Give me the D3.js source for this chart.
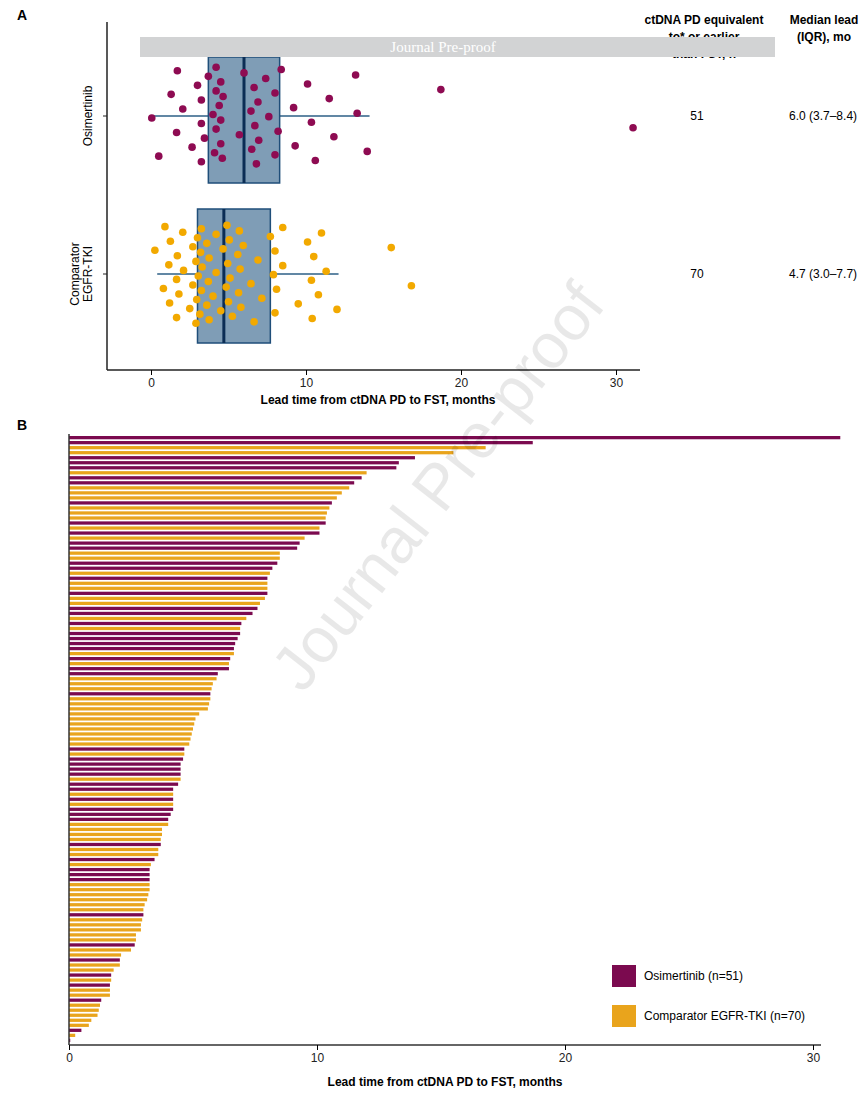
<!DOCTYPE html>
<html lang="en">
<head>
<meta charset="UTF-8">
<script src="https://d3js.org/d3.v7.min.js"></script>
</head>
<body style="margin:0px;background:#fff;">
<script>
// lead time (months) per patient, sorted descending
var leadTimes=[31.1,18.7,16.8,15.5,13.95,13.3,13.2,12.0,11.8,11.5,11.3,11.0,10.8,10.6,10.5,10.4,10.35,10.35,10.1,10.1,
9.5,9.3,9.2,8.5,8.5,8.4,8.2,8.1,8.0,8.0,8.0,8.0,7.9,7.7,7.6,7.4,7.15,6.95,6.9,6.9,
6.8,6.7,6.65,6.65,6.5,6.45,6.45,6.0,5.95,5.8,5.75,5.7,5.7,5.65,5.6,5.25,5.1,5.05,5.0,4.95,
4.9,4.85,4.65,4.65,4.6,4.5,4.5,4.5,4.5,4.4,4.2,4.2,4.2,4.2,4.2,4.1,4.0,4.0,3.75,3.75,
3.7,3.7,3.6,3.6,3.45,3.3,3.25,3.25,3.25,3.25,3.25,3.2,3.15,3.05,3.0,3.0,2.95,2.9,2.9,2.7,
2.7,2.65,2.5,2.1,2.05,2.05,1.8,1.7,1.7,1.65,1.65,1.65,1.3,1.25,1.2,1.15,0.9,0.8,0.5,0.25,0.05];
// 1-based positions (in leadTimes) of osimertinib patients; the rest are comparator
var osiRows=[1,2,5,6,7,9,10,14,18,20,22,23,26,27,29,32,35,36,38,40,41,42,43,45,47,48,52,
63,65,66,67,68,70,71,73,75,76,77,82,85,87,88,89,96,102,105,108,110,113,119,121];
var groups=['Osimertinib','Comparator EGFR-TKI'];
var groupCounts=[51,70];
var medianIQR=['6.0 (3.7\u20138.4)','4.7 (3.0\u20137.7)'];
var boxStats=[{q1:3.7,med:6.0,q3:8.3,lo:0.2,hi:14.1},{q1:3.0,med:4.7,q3:7.7,lo:0.4,hi:12.1}];
var xTicks=[0,10,20,30];

var arms=leadTimes.map(function(v,i){return osiRows.indexOf(i+1)>=0?groups[0]:groups[1];});
var purple='#7b0a4f', orange='#e9a41c', dotP='#8e0b52', dotO='#f2a900';
var colorOf=function(a){return a=='Osimertinib'?purple:orange;};

var svg=d3.select('body').append('svg').attr('width',865).attr('height',1093)
    .style('font-family','Liberation Sans, Arial, sans-serif');

// ---------- panel A ----------
svg.append('text').attr('x',17).attr('y',20).text('A').attr('font-weight','bold').attr('font-size','14px');
var xA=d3.scaleLinear().domain([0,30]).range([151,616]);
var yA=d3.scalePoint().domain(groups).range([116,274]);
var gA=svg.append('g');
gA.append('line').attr('x1',107).attr('x2',107).attr('y1',22).attr('y2',370).attr('stroke','#222').attr('stroke-width',1.5);
gA.append('g').attr('transform','translate(0,370)')
  .call(d3.axisBottom(xA).tickValues(xTicks).tickSize(5).tickFormat(d3.format('d')))
  .call(function(g){g.select('.domain').attr('d','M107,0H640').attr('stroke','#222').attr('stroke-width',1.5);
      g.selectAll('text').attr('font-size','12px').attr('fill','#222');});
groups.forEach(function(gname){
  gA.append('line').attr('x1',103).attr('x2',107).attr('y1',yA(gname)).attr('y2',yA(gname)).attr('stroke','#222');
});
gA.append('text').attr('transform','translate(92,116) rotate(-90)').attr('text-anchor','middle')
  .attr('font-size','12px').text('Osimertinib');
gA.append('text').attr('transform','translate(79,274) rotate(-90)').attr('text-anchor','middle')
  .attr('font-size','12px').text('Comparator');
gA.append('text').attr('transform','translate(92,274) rotate(-90)').attr('text-anchor','middle')
  .attr('font-size','12px').text('EGFR-TKI');

var boxH=[126,134];
groups.forEach(function(gname,i){
  var b=boxStats[i], cy=yA(gname)+(i==0?4:2), h=boxH[i];
  gA.append('line').attr('x1',xA(b.lo)).attr('x2',xA(b.hi)).attr('y1',yA(gname)).attr('y2',yA(gname))
    .attr('stroke','#2d5f86').attr('stroke-width',1.5);
  gA.append('rect').attr('x',xA(b.q1)).attr('width',xA(b.q3)-xA(b.q1)).attr('y',cy-h/2).attr('height',h)
    .attr('fill','#7f9db6').attr('stroke','#1f4e79').attr('stroke-width',1.5);
  gA.append('line').attr('x1',xA(b.med)).attr('x2',xA(b.med)).attr('y1',cy-h/2).attr('y2',cy+h/2)
    .attr('stroke','#0b2d55').attr('stroke-width',3);
});
// deterministic jitter spread within each row
var seen={};
gA.selectAll('circle').data(leadTimes.map(function(v,i){return {v:v,arm:arms[i]};}))
  .enter().append('circle')
  .attr('cx',function(d){return xA(d.v);})
  .attr('cy',function(d){var k=seen[d.arm]=(seen[d.arm]||0)+1; var f=(k*0.618034)%1; return yA(d.arm)+(f-0.5)*100;})
  .attr('r',3.8)
  .attr('fill',function(d){return d.arm=='Osimertinib'?dotP:dotO;});
gA.append('text').attr('x',378).attr('y',404).attr('text-anchor','middle').attr('font-size','12px')
  .attr('font-weight','bold').text('Lead time from ctDNA PD to FST, months');

// table columns
var hdr=svg.append('g').attr('font-size','12px').attr('font-weight','bold').attr('text-anchor','middle');
hdr.append('text').attr('x',704).attr('y',24).text('ctDNA PD equivalent');
hdr.append('text').attr('x',704).attr('y',41).text('to* or earlier');
hdr.append('text').attr('x',704).attr('y',58).text('than FST, n');
hdr.append('text').attr('x',824).attr('y',24).text('Median lead');
hdr.append('text').attr('x',824).attr('y',41).text('(IQR), mo');
groups.forEach(function(gname,i){
  svg.append('text').attr('x',697).attr('y',yA(gname)+4).attr('text-anchor','middle').attr('font-size','12px').text(groupCounts[i]);
  svg.append('text').attr('x',789).attr('y',yA(gname)+4).attr('font-size','12px').text(medianIQR[i]);
});
svg.append('rect').attr('x',140).attr('y',37).attr('width',635).attr('height',20).attr('fill','#d2d3d4');
svg.append('text').attr('x',443).attr('y',52).attr('text-anchor','middle').attr('fill','#fff')
  .attr('font-family','Liberation Serif, serif').attr('font-size','15px').text('Journal Pre-proof');

// ---------- panel B ----------
svg.append('text').attr('x',17).attr('y',430).text('B').attr('font-weight','bold').attr('font-size','14px');
var xB=d3.scaleLinear().domain([0,30]).range([69,813]);
var yB=d3.scaleBand().domain(d3.range(leadTimes.length)).range([436,1042]).paddingInner(0.35);
var gB=svg.append('g');
gB.selectAll('rect').data(leadTimes).enter().append('rect')
  .attr('x',xB(0)).attr('y',function(d,i){return yB(i);})
  .attr('width',function(d){return xB(d)-xB(0);}).attr('height',yB.bandwidth())
  .attr('fill',function(d,i){return colorOf(arms[i]);});
gB.append('line').attr('x1',69).attr('x2',69).attr('y1',434).attr('y2',1045).attr('stroke','#333').attr('stroke-width',1.5);
gB.append('g').attr('transform','translate(0,1045)')
  .call(d3.axisBottom(xB).tickValues(xTicks).tickSize(5).tickFormat(d3.format('d')))
  .call(function(g){g.select('.domain').attr('d','M69,0H821').attr('stroke','#333').attr('stroke-width',1.5);
      g.selectAll('text').attr('font-size','12px').attr('fill','#222');});
gB.append('text').attr('x',445).attr('y',1086).attr('text-anchor','middle').attr('font-size','12px')
  .attr('font-weight','bold').text('Lead time from ctDNA PD to FST, months');
var leg=svg.append('g').selectAll('g').data(groups).enter().append('g')
  .attr('transform',function(d,i){return 'translate(612,'+(965+i*40)+')';});
leg.append('rect').attr('width',24).attr('height',22).attr('fill',function(d){return colorOf(d);});
leg.append('text').attr('x',32).attr('y',15).attr('font-size','12px')
  .text(function(d,i){return d+' (n='+groupCounts[i]+')';});

// watermark
svg.append('text').attr('transform','translate(455,500) rotate(-52)').attr('text-anchor','middle')
  .attr('font-size','64px').attr('fill','#000').attr('fill-opacity',0.09)
  .attr('font-family','Liberation Sans, Arial, sans-serif').text('Journal Pre-proof');
</script>
</body>
</html>
